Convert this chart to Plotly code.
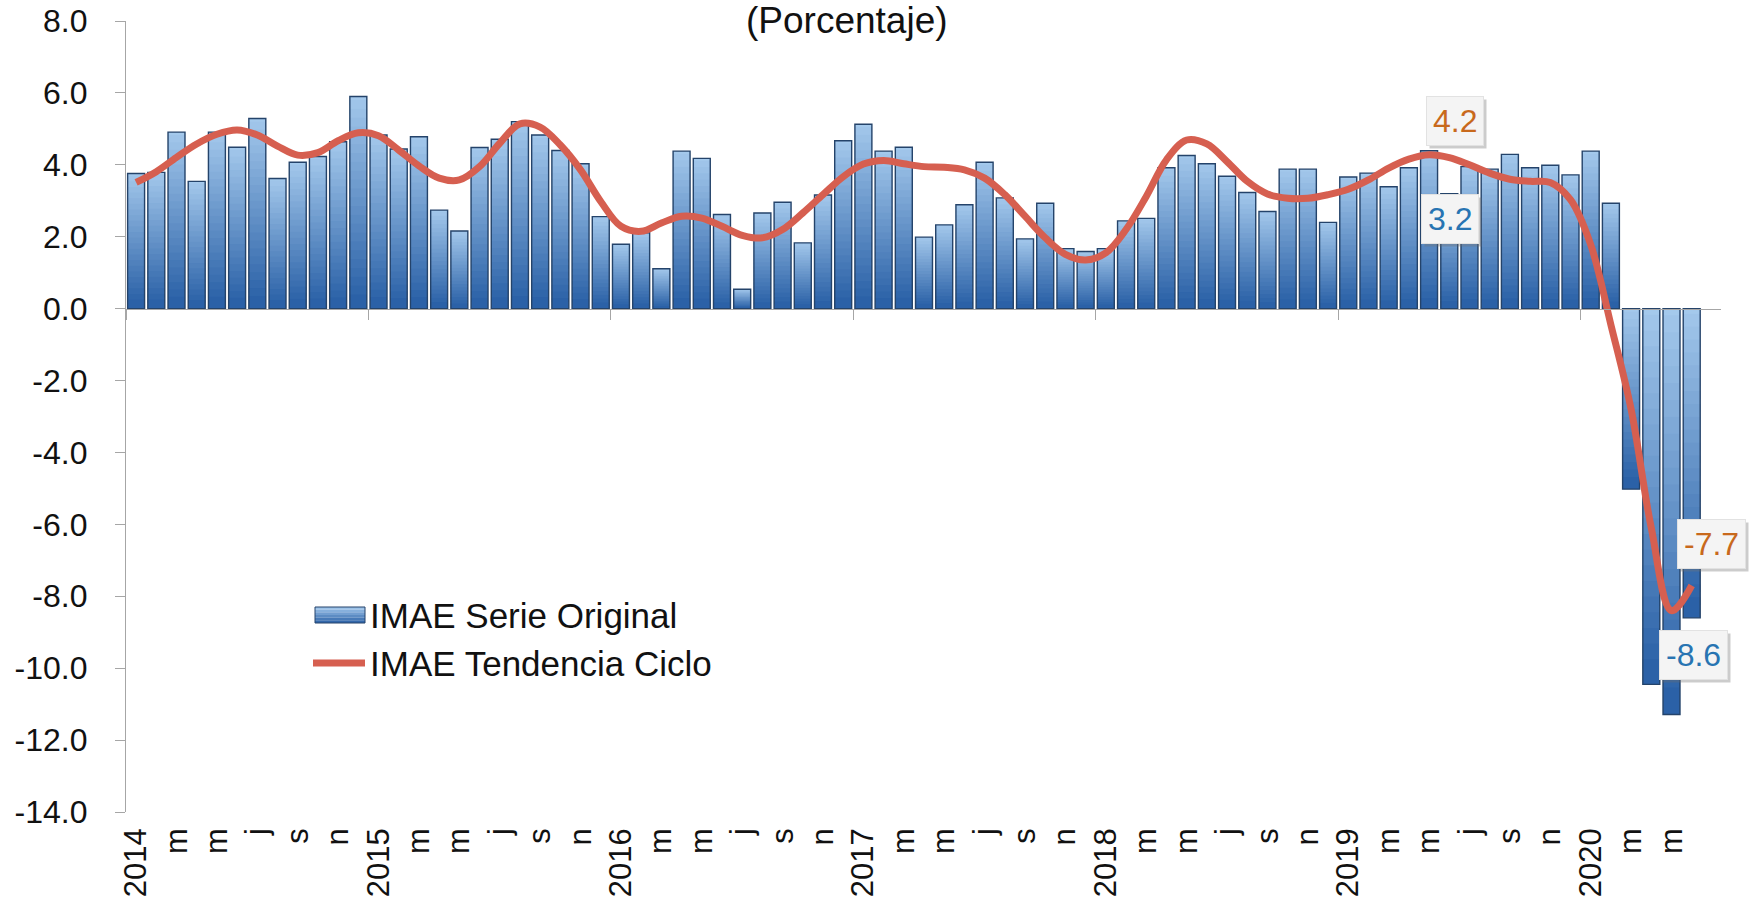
import plotly.graph_objects as go

# ---- data -------------------------------------------------------------
years = [2014, 2015, 2016, 2017, 2018, 2019, 2020]
months = [f"{y}-{m:02d}" for y in years for m in range(1, 13)][:78]

# IMAE original series, year-over-year change (%)
imae_original = [
    3.76, 3.79, 4.91, 3.54, 4.91, 4.49, 5.29, 3.62, 4.07, 4.23, 4.64, 5.90,
    4.83, 4.44, 4.78, 2.74, 2.16, 4.48, 4.71, 5.20, 4.83, 4.40, 4.03, 2.56,
    1.79, 2.11, 1.11, 4.38, 4.18, 2.62, 0.54, 2.66, 2.96, 1.83, 3.16, 4.67,
    5.13, 4.38, 4.49, 1.99, 2.33, 2.89, 4.07, 3.08, 1.94, 2.93, 1.67, 1.59,
    1.67, 2.44, 2.51, 3.92, 4.26, 4.03, 3.68, 3.23, 2.70, 3.88, 3.88, 2.40,
    3.66, 3.77, 3.39, 3.92, 4.39, 3.2, 3.95, 3.88, 4.29, 3.92, 3.99, 3.72,
    4.38, 2.93, -5.02, -10.45, -11.29, -8.6,
]

# IMAE trend-cycle, year-over-year change (%)
imae_tendencia = [
    3.51, 3.81, 4.21, 4.58, 4.85, 4.97, 4.83, 4.52, 4.27, 4.34, 4.67, 4.89,
    4.81, 4.41, 3.97, 3.63, 3.58, 3.95, 4.60, 5.14, 5.05, 4.55, 3.86, 2.98,
    2.29, 2.15, 2.38, 2.57, 2.52, 2.29, 2.04, 1.97, 2.20, 2.66, 3.17, 3.67,
    4.02, 4.12, 4.03, 3.95, 3.93, 3.86, 3.63, 3.17, 2.57, 1.97, 1.51, 1.35,
    1.55, 2.20, 3.12, 4.14, 4.69, 4.58, 4.09, 3.54, 3.19, 3.07, 3.07, 3.17,
    3.32, 3.58, 3.91, 4.16, 4.28, 4.2, 4.00, 3.77, 3.60, 3.54, 3.51, 3.03,
    1.78, -0.45, -2.8, -6.1, -8.4, -7.7,
]

tick_text = [
    "2014", "m", "m", "j", "s", "n",
    "2015", "m", "m", "j", "s", "n",
    "2016", "m", "m", "j", "s", "n",
    "2017", "m", "m", "j", "s", "n",
    "2018", "m", "m", "j", "s", "n",
    "2019", "m", "m", "j", "s", "n",
    "2020", "m", "m",
]
tick_months = months[::2]

y_tick_vals = [8, 6, 4, 2, 0, -2, -4, -6, -8, -10, -12, -14]
y_tick_text = ["8.0", "6.0", "4.0", "2.0", "0.0", "-2.0", "-4.0", "-6.0",
               "-8.0", "-10.0", "-12.0", "-14.0"]

# ---- styling ------------------------------------------------------------
W, H = 1752, 907
M_L, M_R, M_T, M_B = 126, 31, 21, 95
X_RANGE = [-0.5, 78.45]
Y_RANGE = [-14, 8]
FONT = "Liberation Sans, Arial, sans-serif"
TEXT = "#111111"
AXIS = "#a6a6a6"
BAR_TOP = (167, 203, 238)
BAR_BOTTOM = (40, 95, 165)
BAR_EDGE = "#24436a"
LINE_RED = "#d65f50"
ORANGE = "#c8691c"
BLUE = "#2874b2"
BAR_WIDTH = 0.84
N_SLICES = 24


def mix(t):
    r, g, b = (round(a + (c - a) * t) for a, c in zip(BAR_TOP, BAR_BOTTOM))
    return f"rgb({r},{g},{b})"


def px_x(px):
    return (px - M_L) / (W - M_L - M_R)


def px_y(py):
    return (H - M_B - py) / (H - M_T - M_B)


fig = go.Figure()

# vertical gradient inside every bar: light at the top edge, dark at the bottom
for k in range(N_SLICES):
    bases, heights = [], []
    for v in imae_original:
        top, bottom = max(v, 0.0), min(v, 0.0)
        h = (top - bottom) / N_SLICES
        bases.append(top - (k + 1) * h)
        heights.append(h * (1.0 if k == 0 else 1.6))
    fig.add_bar(
        x=months, y=heights, base=bases, width=BAR_WIDTH,
        marker=dict(color=mix((k + 0.5) / N_SLICES), line=dict(width=0)),
        showlegend=False, hoverinfo="skip",
    )

# bar outlines
fig.add_bar(
    x=months, y=imae_original, width=BAR_WIDTH, name="IMAE Serie Original",
    marker=dict(color="rgba(0,0,0,0)", line=dict(color=BAR_EDGE, width=1.4)),
    showlegend=False,
)

# trend-cycle line
fig.add_scatter(
    x=months, y=imae_tendencia, mode="lines", name="IMAE Tendencia Ciclo",
    line=dict(color=LINE_RED, width=7, shape="spline", smoothing=1.0),
    showlegend=False,
)

# carrier for the category axis drawn along y = 0
fig.add_scatter(x=[None], y=[None], xaxis="x2", yaxis="y",
                showlegend=False, hoverinfo="skip")

fig.update_layout(
    width=W, height=H,
    margin=dict(l=M_L, r=M_R, t=M_T, b=M_B, autoexpand=False),
    paper_bgcolor="white", plot_bgcolor="white",
    barmode="overlay",
    font=dict(family=FONT, color=TEXT),
    xaxis=dict(
        type="category", automargin=False,
        range=X_RANGE, tickmode="array", tickvals=tick_months, ticktext=tick_text,
        tickangle=-90, tickfont=dict(size=31, color=TEXT),
        showline=False, showgrid=False, zeroline=False, ticks="",
        ticklabelstandoff=9,
    ),
    xaxis2=dict(
        type="linear", automargin=False,
        overlaying="x", anchor="free", position=(0 - Y_RANGE[0]) / (Y_RANGE[1] - Y_RANGE[0]),
        side="bottom", range=X_RANGE, tickmode="array",
        tickvals=[-0.5, 11.5, 23.5, 35.5, 47.5, 59.5, 71.5],
        showticklabels=False, ticks="outside", ticklen=10, tickcolor=AXIS,
        showline=True, linecolor=AXIS, linewidth=1.2,
        showgrid=False, zeroline=False,
    ),
    yaxis=dict(
        automargin=False,
        range=Y_RANGE, tickmode="array", tickvals=y_tick_vals, ticktext=y_tick_text,
        tickfont=dict(size=32, color=TEXT),
        showline=True, linecolor=AXIS, linewidth=1.2,
        ticks="outside", ticklen=10, tickcolor=AXIS,
        showgrid=False, zeroline=False, ticklabelstandoff=21,
    ),
)

# ---- chart title (second line) ----------------------------------------------
annotations = [
    dict(text="(Porcentaje)", xref="paper", yref="paper", x=px_x(847), y=1,
         xanchor="center", yanchor="top", yshift=23, showarrow=False,
         font=dict(size=37, color=TEXT)),
]

# ---- value call-outs ------------------------------------------------------------
callouts = [
    (imae_tendencia, 65, ORANGE, "bottom", 12, 6),
    (imae_original, 65, BLUE, "top", 0, 1),
    (imae_tendencia, 77, ORANGE, "bottom", 16, 20),
    (imae_original, 77, BLUE, "top", -12, 2),
]
for series, i, color, anchor, dy, dx in callouts:
    label = f"{series[i]:.1f}"
    common = dict(x=months[i], y=series[i], xref="x", yref="y", showarrow=False,
                  xanchor="center", yanchor=anchor, borderpad=6, borderwidth=1)
    annotations.append(dict(common, text=label, xshift=dx + 3, yshift=dy - 3,
                            bgcolor="rgba(110,110,110,0.35)",
                            bordercolor="rgba(0,0,0,0)",
                            font=dict(size=32, color="rgba(0,0,0,0)")))
    annotations.append(dict(common, text=label, xshift=dx, yshift=dy,
                            bgcolor="#f4f4f4", bordercolor="#e2e2e2",
                            font=dict(size=32, color=color)))

# ---- legend ------------------------------------------------------------------------
shapes = []
sym_top, sym_bot = 607, 623
steps = 6
for k in range(steps):
    y0 = sym_top + (sym_bot - sym_top) * k / steps
    y1 = sym_top + (sym_bot - sym_top) * (k + 1) / steps
    shapes.append(dict(type="rect", xref="paper", yref="paper",
                       x0=px_x(315), x1=px_x(365), y0=px_y(y0), y1=px_y(y1),
                       fillcolor=mix((k + 0.5) / steps), line=dict(width=0)))
shapes.append(dict(type="rect", xref="paper", yref="paper",
                   x0=px_x(315), x1=px_x(365), y0=px_y(sym_top), y1=px_y(sym_bot),
                   fillcolor="rgba(0,0,0,0)", line=dict(color=BAR_EDGE, width=1)))
shapes.append(dict(type="line", xref="paper", yref="paper",
                   x0=px_x(313), x1=px_x(365), y0=px_y(663), y1=px_y(663),
                   line=dict(color=LINE_RED, width=7)))

for text, py in [("IMAE Serie Original", 615), ("IMAE Tendencia Ciclo", 663)]:
    annotations.append(dict(text=text, xref="paper", yref="paper",
                            x=px_x(368), y=px_y(py), xanchor="left", yanchor="middle",
                            showarrow=False, font=dict(size=35, color=TEXT)))

fig.update_layout(annotations=annotations, shapes=shapes)

fig.write_html("out.html")
